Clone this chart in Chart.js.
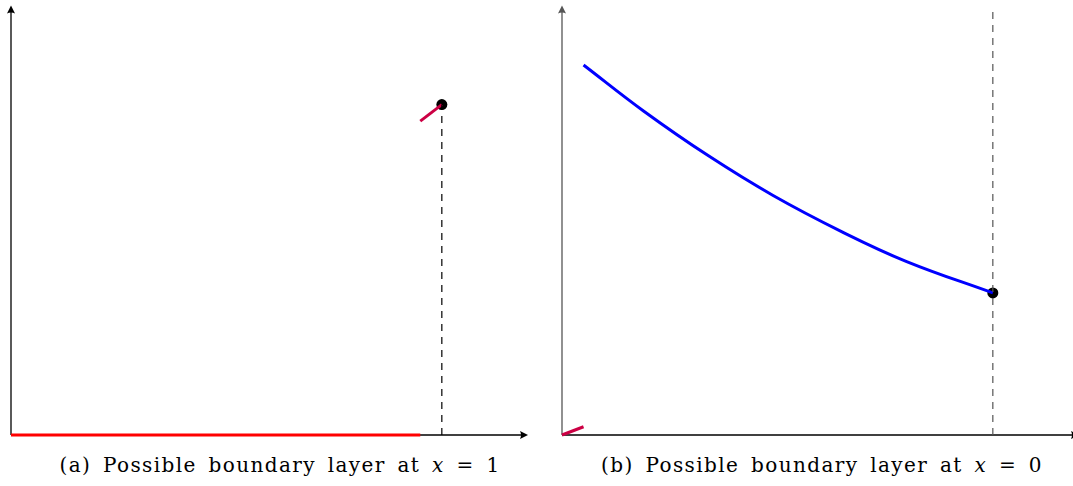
<!DOCTYPE html>
<html>
<head>
<meta charset="utf-8">
<script src="https://cdn.jsdelivr.net/npm/chart.js@4/dist/chart.umd.min.js"></script>
<style>
  html, body { margin: 0; padding: 0; background: #fff; overflow: hidden; }
  body { width: 1073px; height: 486px; position: relative; }
  canvas { position: absolute; top: 0; }
  #panel-a { left: 0; }
  #panel-b { left: 550px; }
  .caption {
    position: absolute; top: 453px; width: 560px; text-align: center;
    font-family: "DejaVu Serif", serif; font-size: 20px; color: #000; white-space: nowrap;
    letter-spacing: 1.4px; word-spacing: 4px;
  }
  .caption i { font-style: italic; }
</style>
</head>
<body>
<canvas id="panel-a" width="540" height="445"></canvas>
<canvas id="panel-b" width="540" height="445"></canvas>
<div class="caption" style="left:0">(a) Possible boundary layer at <i>x</i> = 1</div>
<div class="caption" style="left:542px">(b) Possible boundary layer at <i>x</i> = 0</div>

<script>
    'use strict';

    // ===========================================
    // DATA
    // ===========================================
    // panel (a): flat outer solution, then a steep layer near x = 1
    const outerAX = [0, 0.95];
    const outerAY = [0, 0];
    const layerAX = [0.95, 1];
    const layerAY = [0.95, 1];
    const endAX = [1];
    const endAY = [1];
    const guideAX = [1, 1];
    const guideAY = [0, 1];

    // panel (b): decaying outer solution, layer near x = 0
    const outerBX = [0.05, 0.19, 0.34, 0.49, 0.65, 0.80, 1.0];
    const outerBY = [1.12, 0.98, 0.845, 0.725, 0.615, 0.525, 0.43];
    const layerBX = [0, 0.05];
    const layerBY = [0, 0.025];
    const endBX = [1];
    const endBY = [0.43];
    const guideBX = [1, 1];
    const guideBY = [0, 1.28];

    const RED = '#ff0000';
    const CRIMSON = '#cc0044';
    const BLUE = '#0000ff';

    function pts(xs, ys) {
        return xs.map((x, i) => ({ x: x, y: ys[i] }));
    }

    function line(xs, ys, color, width, extra) {
        return Object.assign({
            data: pts(xs, ys),
            showLine: true,
            borderColor: color,
            borderWidth: width,
            pointRadius: 0,
            fill: false,
            clip: false,
        }, extra || {});
    }

    function dot(xs, ys) {
        return {
            data: pts(xs, ys),
            showLine: false,
            pointRadius: 5.5,
            pointBackgroundColor: '#000',
            pointBorderWidth: 0,
            clip: false,
        };
    }

    // ===========================================
    // AXES WITH ARROWS
    // ===========================================
    function arrowHead(ctx, x, y, dir) {
        ctx.save();
        ctx.translate(x, y);
        ctx.rotate(dir);
        ctx.beginPath();
        ctx.moveTo(0, 0);
        ctx.lineTo(-8, -4);
        ctx.quadraticCurveTo(-6, 0, -8, 4);
        ctx.closePath();
        ctx.fill();
        ctx.restore();
    }

    function axesPlugin(yColor) {
        return {
            id: 'arrowAxes',
            beforeDatasetsDraw(chart) {
                const ctx = chart.ctx;
                const a = chart.chartArea;
                ctx.save();
                ctx.lineWidth = 1.3;
                // x axis
                ctx.strokeStyle = '#000';
                ctx.fillStyle = '#000';
                ctx.beginPath();
                ctx.moveTo(a.left, a.bottom);
                ctx.lineTo(a.right - 3, a.bottom);
                ctx.stroke();
                arrowHead(ctx, a.right, a.bottom, 0);
                // y axis
                ctx.strokeStyle = yColor;
                ctx.fillStyle = yColor;
                ctx.beginPath();
                ctx.moveTo(a.left, a.bottom);
                ctx.lineTo(a.left, a.top + 3);
                ctx.stroke();
                arrowHead(ctx, a.left, a.top, -Math.PI / 2);
                ctx.restore();
            }
        };
    }

    function baseOptions(padding) {
        return {
            responsive: false,
            animation: false,
            layout: { padding: padding },
            plugins: { legend: { display: false }, tooltip: { enabled: false } },
            scales: {
                x: { type: 'linear', min: 0, max: 1.2, display: false },
                y: { type: 'linear', min: 0, max: 1.3, display: false }
            }
        };
    }

    // ===========================================
    // CHARTS
    // ===========================================
    new Chart(document.getElementById('panel-a'), {
        type: 'scatter',
        data: {
            datasets: [
                line(guideAX, guideAY, '#000', 1.2, { borderDash: [7, 6] }),
                line(outerAX, outerAY, RED, 3),
                line(layerAX, layerAY, CRIMSON, 3),
                dot(endAX, endAY)
            ]
        },
        options: baseOptions({ left: 11, right: 12, top: 5, bottom: 10 }),
        plugins: [axesPlugin('#000')]
    });

    new Chart(document.getElementById('panel-b'), {
        type: 'scatter',
        data: {
            datasets: [
                line(guideBX, guideBY, '#555', 1.2, { borderDash: [7, 6] }),
                line(outerBX, outerBY, BLUE, 3, { tension: 0.4 }),
                line(layerBX, layerBY, CRIMSON, 3),
                dot(endBX, endBY)
            ]
        },
        options: baseOptions({ left: 12, right: 11, top: 5, bottom: 10 }),
        plugins: [axesPlugin('#555')]
    });
</script>
</body>
</html>
